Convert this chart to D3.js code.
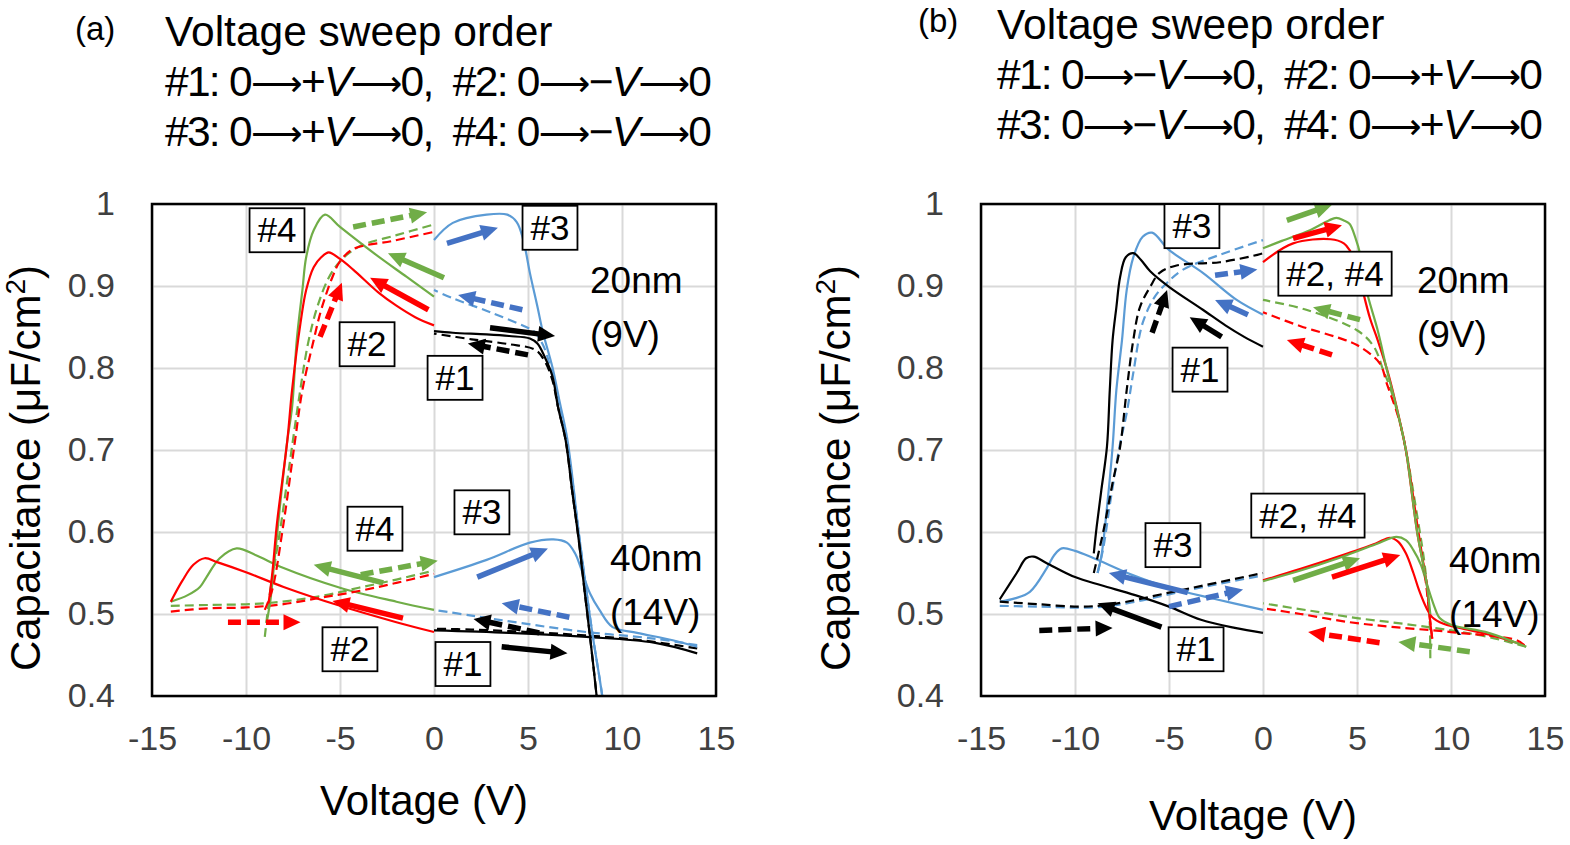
<!DOCTYPE html>
<html><head><meta charset="utf-8">
<script src="https://cdn.jsdelivr.net/npm/d3@7"></script>
<style>
body{margin:0;background:#fff;}
svg{display:block;font-family:"Liberation Sans",Arial,sans-serif;}
</style></head>
<body><svg id="chart" width="1570" height="845"></svg>
<script>
// ---------------- data ----------------
const xTicks = [-15,-10,-5,0,5,10,15];
const yTicks = [0.4,0.5,0.6,0.7,0.8,0.9,1];

// Panel (a) 20 nm
const a20_1s = [[0,0.845],[1,0.843],[2.8,0.841],[4,0.839],[5.1,0.836],[5.5,0.83],[5.9,0.813],[6.3,0.79],[6.6,0.752],[7.0,0.712],[7.35,0.65],[7.7,0.59],[8.0,0.53],[8.3,0.472],[8.65,0.4],[8.9,0.34]];
const a20_1d = [[8.9,0.34],[8.65,0.4],[8.3,0.472],[8.0,0.53],[7.7,0.59],[7.35,0.65],[7.0,0.712],[6.6,0.752],[6.3,0.785],[5.9,0.808],[5.4,0.822],[4,0.829],[2,0.835],[0,0.842]];
const a20_2s = [[0,0.852],[-1,0.862],[-2,0.876],[-2.9,0.891],[-4.3,0.92],[-5,0.933],[-5.6,0.941],[-6.0,0.935],[-6.4,0.923],[-6.8,0.895],[-7.1,0.855],[-7.55,0.773],[-7.8,0.712],[-8.35,0.611],[-8.6,0.55],[-8.8,0.513]];
const a20_2d = [[-9,0.505],[-8.6,0.53],[-8.0,0.611],[-7.4,0.71],[-7.0,0.773],[-6.4,0.834],[-6.0,0.871],[-5.4,0.911],[-5,0.93],[-4.3,0.945],[-2.2,0.955],[0,0.966]];
const a20_3s = [[0,0.956],[1,0.977],[2.8,0.987],[3.9,0.987],[4.4,0.978],[4.75,0.956],[5.1,0.916],[5.5,0.875],[5.8,0.843],[6.3,0.801],[6.7,0.757],[7.1,0.712],[7.75,0.59],[8.4,0.48],[8.95,0.4],[9.2,0.35]];
const a20_3d = [[9.2,0.35],[8.95,0.4],[8.4,0.48],[7.75,0.59],[7.1,0.705],[6.6,0.76],[6.2,0.8],[5.8,0.828],[5.3,0.845],[4.9,0.85],[3,0.868],[1,0.885],[0,0.895]];
const a20_4s = [[0,0.887],[-1.45,0.911],[-3.2,0.94],[-5,0.972],[-5.8,0.987],[-6.4,0.968],[-6.8,0.935],[-7.0,0.895],[-7.3,0.834],[-7.55,0.752],[-7.8,0.712],[-8.2,0.63],[-8.55,0.55],[-8.7,0.517],[-8.9,0.49]];
const a20_4d = [[-9,0.472],[-8.7,0.53],[-8.2,0.6],[-7.7,0.68],[-7.2,0.76],[-6.7,0.83],[-6.2,0.875],[-5.6,0.91],[-5,0.93],[-4,0.948],[-2,0.962],[0,0.975]];
// Panel (a) 40 nm
const a40_1s = [[0,0.48],[4,0.477],[8.1,0.472],[11.7,0.465],[14,0.452]];
const a40_1d = [[14,0.458],[11,0.468],[8,0.474],[5,0.478],[2,0.481],[0,0.482]];
const a40_2s = [[0,0.478],[-2,0.49],[-5,0.51],[-8,0.533],[-10,0.551],[-11.5,0.563],[-12.2,0.568],[-12.8,0.56],[-13.4,0.54],[-14,0.515]];
const a40_2d = [[-14,0.503],[-12,0.507],[-10,0.508],[-8,0.512],[-6,0.52],[-4,0.528],[-2,0.538],[0,0.549]];
const a40_3s = [[0,0.545],[2.8,0.566],[5.1,0.587],[6.35,0.591],[7.07,0.587],[7.5,0.574],[7.8,0.557],[8.3,0.525],[8.8,0.505],[9.5,0.484],[10.8,0.477],[12.7,0.468],[14,0.46]];
const a40_3d = [[14,0.462],[11.7,0.47],[8.1,0.478],[4.6,0.489],[2,0.498],[0,0.505]];
const a40_4s = [[0,0.505],[-2,0.515],[-5,0.532],[-8,0.556],[-9.5,0.572],[-10.5,0.58],[-11.4,0.568],[-12.1,0.545],[-12.45,0.533],[-13.1,0.523],[-14,0.515]];
const a40_4d = [[-14,0.51],[-12,0.511],[-9,0.513],[-6,0.522],[-4,0.532],[-2,0.542],[0,0.553]];

// Panel (b) 20 nm
const b20_1s = [[0,0.826],[-1,0.838],[-2,0.852],[-3.2,0.871],[-5,0.899],[-6,0.918],[-6.5,0.932],[-6.9,0.94],[-7.3,0.935],[-7.6,0.911],[-7.8,0.874],[-8.0,0.834],[-8.15,0.773],[-8.3,0.704],[-8.6,0.651],[-8.85,0.606],[-9.0,0.574]];
const b20_1d = [[-9,0.55],[-8.5,0.6],[-8.0,0.66],[-7.6,0.704],[-7.25,0.773],[-6.9,0.834],[-6.55,0.874],[-6.0,0.899],[-5.5,0.916],[-4.6,0.925],[-2.3,0.929],[-0.3,0.938],[0,0.94]];
const b20_2s = [[0,0.929],[1.6,0.952],[3.6,0.957],[4.3,0.952],[4.6,0.944],[5.0,0.925],[5.3,0.895],[5.7,0.86],[6.1,0.834],[6.7,0.79],[7.3,0.733],[7.6,0.70],[8.2,0.6],[8.7,0.538],[8.85,0.5],[9,0.47]];
const b20_2d = [[9,0.47],[8.85,0.5],[8.6,0.55],[8.2,0.61],[7.6,0.7],[7.2,0.74],[6.6,0.78],[6.2,0.806],[5,0.828],[4,0.837],[2,0.851],[0,0.868]];
const b20_3s = [[0,0.865],[-1.4,0.883],[-3.2,0.916],[-5,0.944],[-5.9,0.965],[-6.4,0.96],[-6.9,0.935],[-7.25,0.895],[-7.5,0.834],[-7.8,0.773],[-8.0,0.704],[-8.3,0.63],[-8.6,0.57],[-8.8,0.55]];
const b20_3d = [[-8.8,0.55],[-8.5,0.58],[-8.1,0.64],[-7.6,0.708],[-7.25,0.745],[-6.9,0.794],[-6.4,0.855],[-5.75,0.887],[-5.1,0.904],[-4.25,0.92],[-2.3,0.938],[0,0.956]];
const b20_4s = [[0,0.946],[1,0.955],[2.5,0.968],[3.5,0.98],[3.9,0.983],[4.3,0.98],[4.6,0.976],[4.9,0.96],[5.2,0.936],[5.5,0.895],[6.1,0.846],[6.6,0.797],[7.1,0.752],[7.6,0.7],[8.2,0.6],[8.7,0.538],[8.9,0.5]];
const b20_4d = [[8.9,0.446],[8.85,0.5],[8.6,0.56],[8.2,0.62],[7.6,0.7],[7.1,0.75],[6.7,0.78],[6.4,0.797],[5.9,0.826],[5,0.846],[2.3,0.871],[0,0.883]];
// Panel (b) 40 nm
const b40_1s = [[0,0.477],[-1.5,0.483],[-3.3,0.493],[-5,0.509],[-6.8,0.523],[-8.6,0.535],[-10,0.545],[-11.5,0.562],[-12.2,0.57],[-12.6,0.568],[-13.1,0.55],[-14,0.518]];
const b40_1d = [[-14,0.515],[-12,0.512],[-9.7,0.509],[-8,0.512],[-5,0.526],[-2.5,0.538],[0,0.55]];
const b40_2s = [[0,0.541],[2,0.555],[4,0.57],[6,0.586],[6.75,0.593],[7.2,0.588],[7.6,0.574],[8.0,0.55],[8.3,0.529],[8.7,0.507],[9.0,0.496],[9.6,0.488],[10.3,0.484],[12,0.475],[13.9,0.462]];
const b40_2d = [[13.9,0.462],[13.5,0.468],[10,0.478],[7,0.484],[4.6,0.49],[2,0.5],[0,0.507]];
const b40_3s = [[0,0.505],[-2.5,0.518],[-5,0.532],[-7,0.548],[-9,0.568],[-10,0.577],[-10.7,0.58],[-11.1,0.572],[-11.5,0.556],[-12.4,0.527],[-13.2,0.519],[-14,0.515]];
const b40_3d = [[-14,0.51],[-12,0.509],[-9,0.508],[-7,0.514],[-5,0.524],[-2.5,0.536],[0,0.547]];
const b40_4s = [[0,0.54],[2,0.553],[4,0.568],[6,0.585],[7.1,0.594],[7.6,0.59],[8,0.578],[8.4,0.56],[8.7,0.538],[9.1,0.51],[9.4,0.495],[10,0.487],[12,0.477],[14,0.46]];
const b40_4d = [[14,0.46],[12,0.472],[10,0.48],[7.5,0.488],[5,0.495],[2.5,0.504],[0,0.513]];

// Direction arrows [V1, C1, V2, C2] per sweep and line type
const a_arrows = [
  ['g',1,[-4.3,0.972,-0.37,0.99]], ['g',0,[0.53,0.91,-2.45,0.94]],
  ['r',0,[-0.3,0.871,-3.4,0.91]], ['r',1,[-6.06,0.838,-4.9,0.904]],
  ['b',0,[0.69,0.952,3.4,0.971]], ['b',1,[4.7,0.871,1.28,0.889]],
  ['k',0,[2.98,0.849,6.44,0.839]], ['k',1,[5.0,0.816,1.8,0.83]],
  ['g',0,[-2.7,0.538,-6.4,0.56]], ['g',1,[-3.9,0.548,0.2,0.565]],
  ['r',0,[-1.65,0.495,-5.4,0.516]], ['r',1,[-10.96,0.49,-7.1,0.49]],
  ['b',0,[2.3,0.545,6.06,0.58]], ['b',1,[7.2,0.496,3.6,0.513]],
  ['k',1,[5.6,0.477,2.1,0.494]], ['k',0,[3.6,0.46,7.1,0.452]]
];
const b_arrows = [
  ['g',0,[1.27,0.98,3.67,0.999]], ['r',0,[1.6,0.958,4.2,0.974]],
  ['g',1,[5.16,0.859,2.66,0.874]], ['r',1,[3.67,0.816,1.27,0.834]],
  ['b',1,[-2.55,0.913,-0.3,0.92]], ['b',0,[-0.8,0.865,-2.55,0.883]],
  ['k',0,[-2.2,0.838,-3.9,0.862]], ['k',1,[-5.9,0.843,-5.1,0.895]],
  ['g',0,[1.6,0.541,5.16,0.568]], ['r',0,[3.67,0.545,7.3,0.572]],
  ['r',1,[6.2,0.465,2.4,0.478]], ['g',1,[11.0,0.454,7.2,0.466]],
  ['k',0,[-5.4,0.484,-8.8,0.513]], ['k',1,[-11.9,0.48,-8.0,0.483]],
  ['b',0,[-4.0,0.526,-8.2,0.55]], ['b',1,[-5.0,0.509,-1.06,0.53]]
];

// Boxed labels [text, V, C] (centre)
const a_boxes = [['#4',-8.35,0.968],['#2',-3.56,0.829],['#1',1.12,0.788],['#3',6.17,0.971],
                 ['#4',-3.14,0.604],['#2',-4.47,0.457],['#3',2.55,0.624],['#1',1.54,0.439]];
const b_boxes = [['#3',-3.78,0.973],['#1',-3.35,0.798],['#2, #4',3.83,0.915],
                 ['#3',-4.79,0.584],['#1',-3.56,0.457],['#2, #4',2.39,0.62]];
// Thickness labels [line1, line2, V(left), C(baseline line1)]
const a_notes = [['20nm','(9V)',8.3,0.891],['40nm','(14V)',9.36,0.553]];
const b_notes = [['20nm','(9V)',8.19,0.891],['40nm','(14V)',9.9,0.55]];

// Sweep order header: [label, sign] pairs per row
const a_header = [[['#1','+'],['#2','−']],[['#3','+'],['#4','−']]];
const b_header = [[['#1','−'],['#2','+']],[['#3','−'],['#4','+']]];

// ---------------- drawing ----------------
const svg = d3.select('#chart');
const LINE_COL = {k:'#000000', r:'#FF0000', g:'#70AD47', b:'#5B9BD5'};
const ARR_COL  = {k:'#000000', r:'#FF0000', g:'#70AD47', b:'#4472C4'};
const ARROW = '\u27F6';

function drawPanel(id, x0, x1, series, arrows, boxes, notes, tag, header, headY, xTitleY, yTitleX) {
  const x = d3.scaleLinear().domain([-15,15]).range([x0,x1]);
  const y = d3.scaleLinear().domain([0.4,1]).range([696,204]);
  const g = svg.append('g');

  // header
  g.append('text').attr('x', tag.x).attr('y', tag.y).attr('font-size', 33).attr('fill','#000').text(tag.t);
  g.append('text').attr('x', tag.hx).attr('y', headY).attr('font-size', 42.5).attr('fill','#000').text('Voltage sweep order');
  header.forEach((row, r) => {
    const t = g.append('text').attr('x', tag.hx).attr('y', headY + 50*(r+1)).attr('font-size', 42.5).attr('fill','#000')
      .attr('xml:space','preserve');
    row.forEach(([lab, sign], k) => {
      t.append('tspan').text((k ? ',\u00a0 ' : '') + lab + ': 0');
      t.append('tspan').attr('font-family','DejaVu Sans').attr('font-size', 36).text(ARROW);
      t.append('tspan').text(sign);
      t.append('tspan').attr('font-style','italic').text('V');
      t.append('tspan').attr('font-family','DejaVu Sans').attr('font-size', 36).text(ARROW);
      t.append('tspan').text('0');
    });
    const w = t.node().getComputedTextLength();
    if (Math.abs(w - tag.hw) > 6) t.attr('textLength', tag.hw).attr('lengthAdjust','spacing');
  });

  // grid
  g.append('g').attr('transform', `translate(0,696)`)
    .call(d3.axisBottom(x).tickValues(xTicks).tickSize(-492).tickFormat(''))
    .call(s => s.select('.domain').remove())
    .call(s => s.selectAll('line').attr('stroke','#d9d9d9').attr('stroke-width',2));
  g.append('g').attr('transform', `translate(${x0},0)`)
    .call(d3.axisLeft(y).tickValues(yTicks).tickSize(-(x1-x0)).tickFormat(''))
    .call(s => s.select('.domain').remove())
    .call(s => s.selectAll('line').attr('stroke','#d9d9d9').attr('stroke-width',2));

  // tick labels
  g.append('g').attr('transform', `translate(${x0},0)`)
    .call(d3.axisLeft(y).tickValues(yTicks).tickSize(0).tickPadding(37).tickFormat(d => d === 1 ? '1' : d3.format('.1f')(d)))
    .call(s => s.select('.domain').remove())
    .call(s => s.selectAll('text').attr('font-size', 34).attr('fill','#404040').attr('font-family','Liberation Sans, Arial, sans-serif'));
  g.append('g').attr('transform', `translate(0,696)`)
    .call(d3.axisBottom(x).tickValues(xTicks).tickSize(0).tickPadding(30).tickFormat(d => String(d)))
    .call(s => s.select('.domain').remove())
    .call(s => s.selectAll('text').attr('font-size', 34).attr('fill','#404040').attr('font-family','Liberation Sans, Arial, sans-serif'));

  // axis titles
  g.append('text').attr('x', (x0+x1)/2 - 10).attr('y', xTitleY).attr('text-anchor','middle')
    .attr('font-size', 42).attr('fill','#000').text('Voltage (V)');
  const yt = g.append('text').attr('transform', `translate(${yTitleX},468) rotate(-90)`).attr('text-anchor','middle')
    .attr('font-size', 42).attr('fill','#000');
  yt.append('tspan').text('Capacitance (μF/cm');
  yt.append('tspan').attr('dy', -15).attr('font-size', 28).text('2');
  yt.append('tspan').attr('dy', 15).text(')');

  // clip
  g.append('clipPath').attr('id', 'clip'+id).append('rect')
    .attr('x', x0).attr('y', 204).attr('width', x1-x0).attr('height', 492);

  const line = d3.line().x(d => x(d[0])).y(d => y(d[1])).curve(d3.curveCatmullRom.alpha(0.5));
  const cg = g.append('g').attr('clip-path', `url(#clip${id})`);
  series.forEach(s => {
    cg.append('path').attr('d', line(s.data)).attr('fill','none')
      .attr('stroke', LINE_COL[s.c]).attr('stroke-width', 2.2)
      .attr('stroke-dasharray', s.dash ? '9,5' : null);
  });

  // arrows
  arrows.forEach(([c, dash, v]) => {
    const px1 = x(v[0]), py1 = y(v[1]), px2 = x(v[2]), py2 = y(v[3]);
    const dx = px2-px1, dy = py2-py1, L = Math.hypot(dx,dy), ux = dx/L, uy = dy/L;
    const hl = 17, hw = 8;
    const bx = px2 - ux*hl, by = py2 - uy*hl;
    g.append('line').attr('x1', px1).attr('y1', py1).attr('x2', bx + ux*2).attr('y2', by + uy*2)
      .attr('stroke', ARR_COL[c]).attr('stroke-width', 5.5)
      .attr('stroke-dasharray', dash ? '13,6' : null);
    g.append('path').attr('d', `M${px2},${py2}L${bx - uy*hw},${by + ux*hw}L${bx + uy*hw},${by - ux*hw}Z`)
      .attr('fill', ARR_COL[c]);
  });

  // border
  g.append('rect').attr('x', x0).attr('y', 204).attr('width', x1-x0).attr('height', 492)
    .attr('fill','none').attr('stroke','#000').attr('stroke-width', 2.5);

  // boxed labels
  boxes.forEach(([t, v, c]) => {
    const cx = x(v), cy = y(c);
    const tx = g.append('text').attr('x', cx).attr('y', cy + 12).attr('text-anchor','middle')
      .attr('font-size', 35).attr('fill','#000').text(t);
    const w = tx.node().getComputedTextLength() + 16, h = 44;
    g.insert('rect', () => tx.node()).attr('x', cx - w/2).attr('y', cy - h/2).attr('width', w).attr('height', h)
      .attr('fill','#fff').attr('stroke','#000').attr('stroke-width', 1.8);
  });

  notes.forEach(([l1, l2, v, c]) => {
    g.append('text').attr('x', x(v)).attr('y', y(c)).attr('font-size', 37).attr('fill','#000').text(l1);
    g.append('text').attr('x', x(v)).attr('y', y(c) + 54).attr('font-size', 37).attr('fill','#000').text(l2);
  });
}

const aSeries = [
  {data:a40_1d,c:'k',dash:1},{data:a40_1s,c:'k'},{data:a40_3d,c:'b',dash:1},{data:a40_3s,c:'b'},
  {data:a40_4d,c:'g',dash:1},{data:a40_4s,c:'g'},{data:a40_2d,c:'r',dash:1},{data:a40_2s,c:'r'},
  {data:a20_3s,c:'b'},{data:a20_3d,c:'b',dash:1},{data:a20_1s,c:'k'},{data:a20_1d,c:'k',dash:1},
  {data:a20_4s,c:'g'},{data:a20_4d,c:'g',dash:1},{data:a20_2s,c:'r'},{data:a20_2d,c:'r',dash:1}
];
const bSeries = [
  {data:b40_3d,c:'b',dash:1},{data:b40_3s,c:'b'},{data:b40_1d,c:'k',dash:1},{data:b40_1s,c:'k'},
  {data:b40_4d,c:'g',dash:1},{data:b40_2d,c:'r',dash:1},{data:b40_2s,c:'r'},{data:b40_4s,c:'g'},
  {data:b20_3s,c:'b'},{data:b20_3d,c:'b',dash:1},{data:b20_1s,c:'k'},{data:b20_1d,c:'k',dash:1},
  {data:b20_4d,c:'g',dash:1},{data:b20_2d,c:'r',dash:1},{data:b20_2s,c:'r'},{data:b20_4s,c:'g'}
];

drawPanel('A', 152, 716, aSeries, a_arrows, a_boxes, a_notes, {t:'(a)', x:75, y:40, hx:165, hw:547}, a_header, 46, 815, 40);
drawPanel('B', 981, 1545, bSeries, b_arrows, b_boxes, b_notes, {t:'(b)', x:918, y:32, hx:997, hw:546}, b_header, 39, 830, 850);
</script></body></html>
